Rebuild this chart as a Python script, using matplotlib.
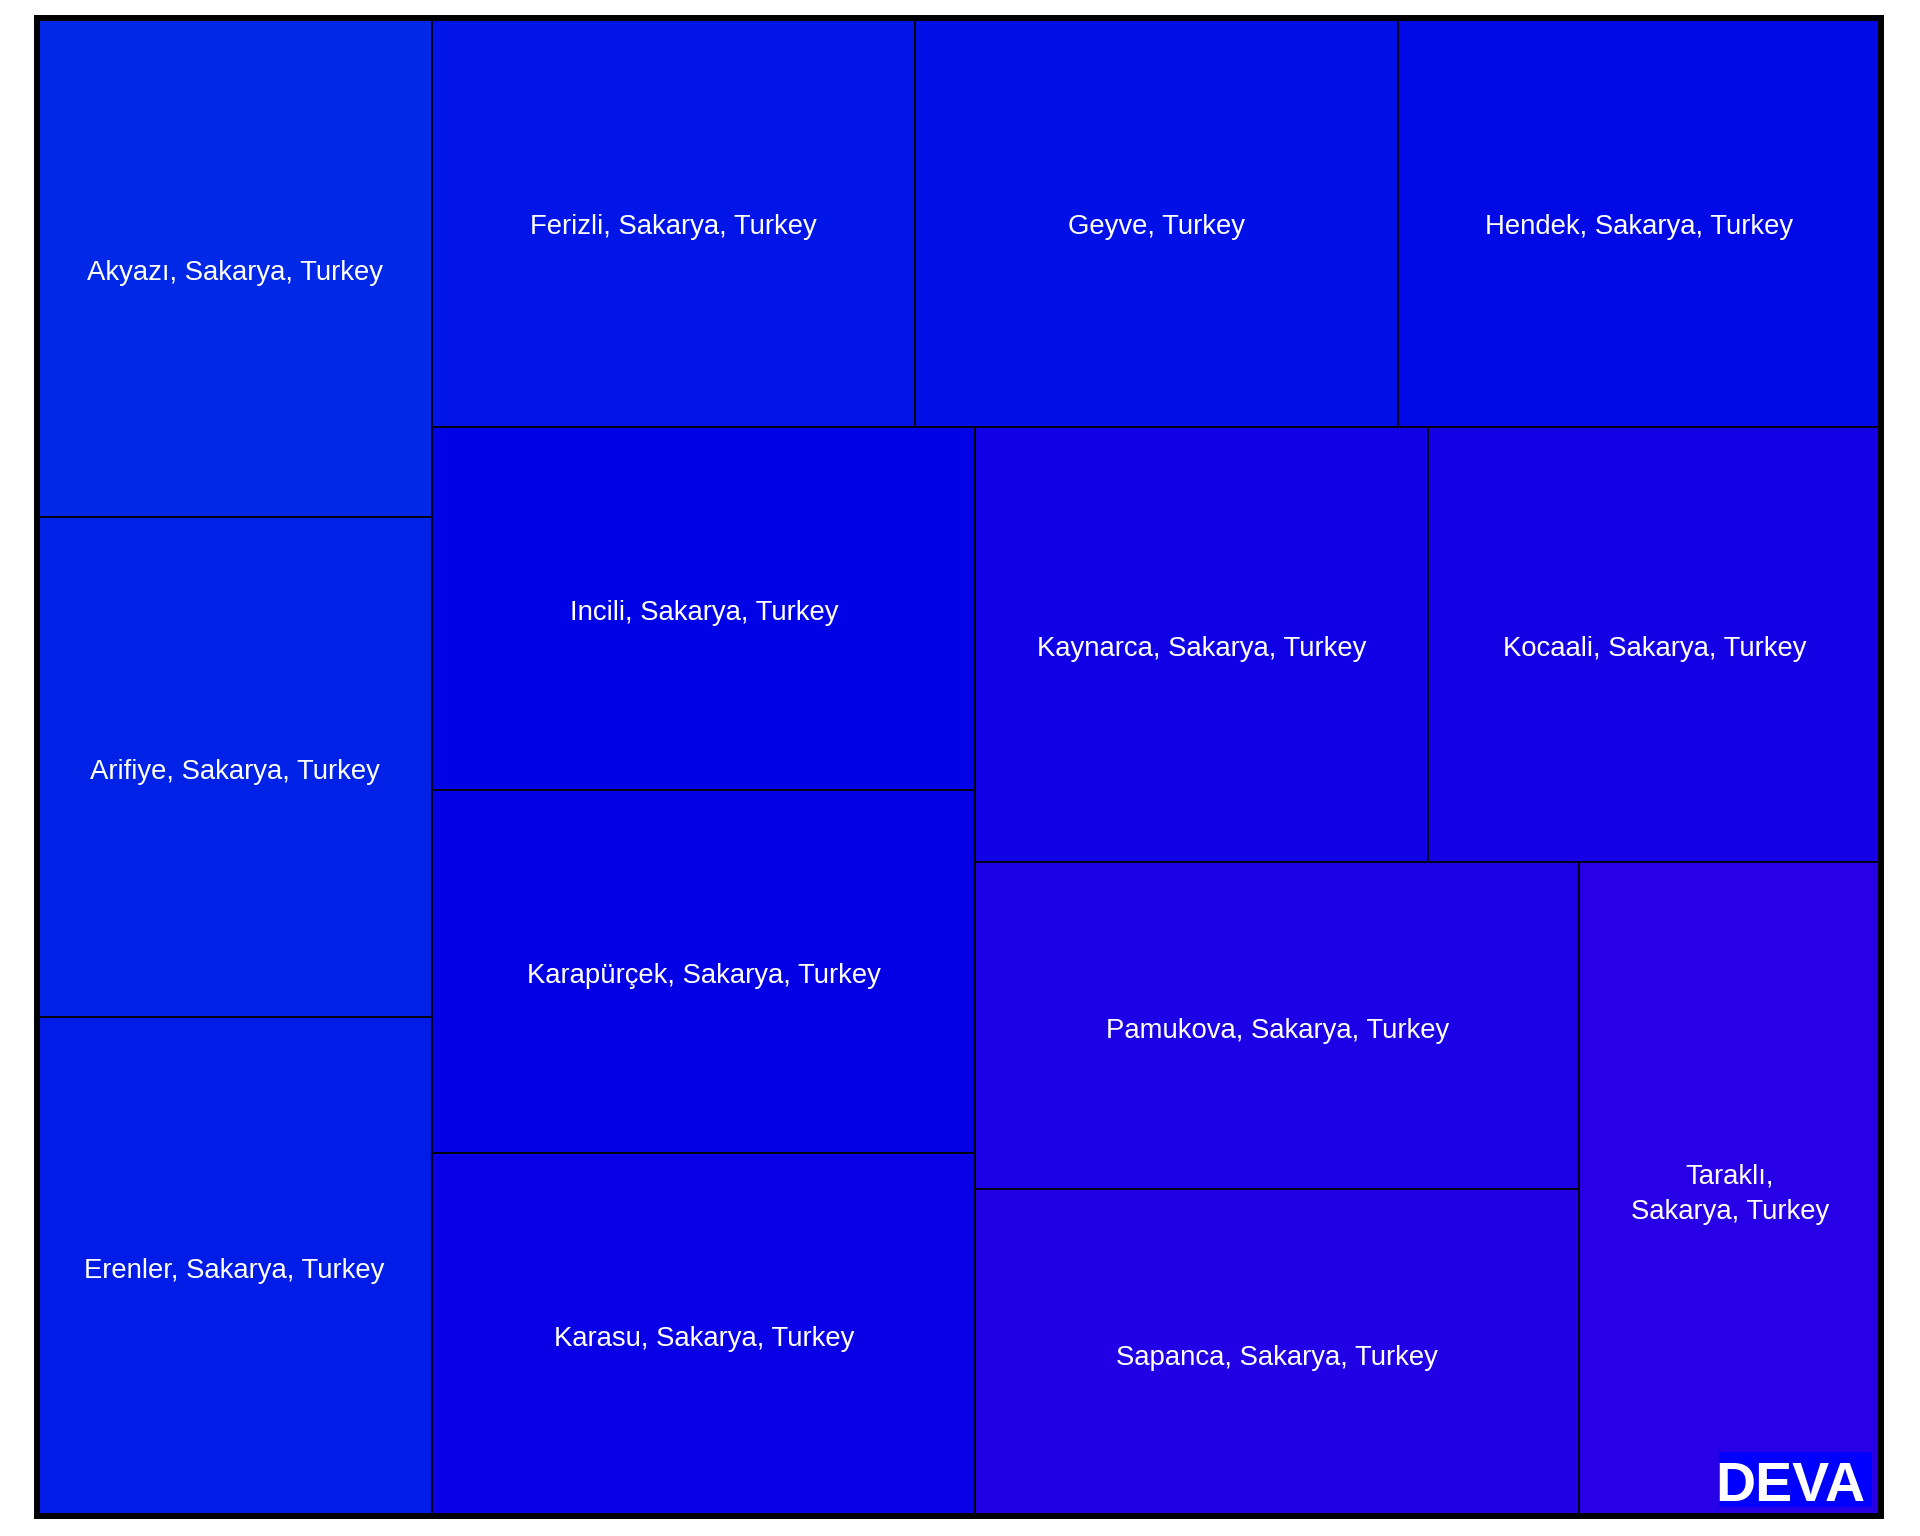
import matplotlib
matplotlib.use("Agg")
import matplotlib.pyplot as plt
import matplotlib.transforms as mtransforms
from matplotlib.colors import LinearSegmentedColormap
from matplotlib.patches import Rectangle

# ---- data ----
labels = [
    "Akyazı, Sakarya, Turkey",
    "Arifiye, Sakarya, Turkey",
    "Erenler, Sakarya, Turkey",
    "Ferizli, Sakarya, Turkey",
    "Geyve, Turkey",
    "Hendek, Sakarya, Turkey",
    "Incili, Sakarya, Turkey",
    "Karapürçek, Sakarya, Turkey",
    "Karasu, Sakarya, Turkey",
    "Kaynarca, Sakarya, Turkey",
    "Kocaali, Sakarya, Turkey",
    "Pamukova, Sakarya, Turkey",
    "Sapanca, Sakarya, Turkey",
    "Taraklı,\nSakarya, Turkey",
]
values = [1, 1, 1, 1, 1, 1, 1, 1, 1, 1, 1, 1, 1, 1]


# ---- squarified treemap layout ----
def _layout(sizes, x, y, dx, dy):
    area = sum(sizes)
    rects = []
    if dx >= dy:  # column on the left
        w = area / dy
        for s in sizes:
            h = s / w
            rects.append((x, y, w, h))
            y += h
    else:  # row on the top
        h = area / dx
        for s in sizes:
            w = s / h
            rects.append((x, y, w, h))
            x += w
    return rects


def _leftover(sizes, x, y, dx, dy):
    area = sum(sizes)
    if dx >= dy:
        w = area / dy
        return x + w, y, dx - w, dy
    h = area / dx
    return x, y + h, dx, dy - h


def _worst(sizes, x, y, dx, dy):
    return max(max(r[2] / r[3], r[3] / r[2]) for r in _layout(sizes, x, y, dx, dy))


def squarify(sizes, x, y, dx, dy):
    if not sizes:
        return []
    if len(sizes) == 1:
        return _layout(sizes, x, y, dx, dy)
    i = 1
    while i < len(sizes) and _worst(sizes[:i], x, y, dx, dy) >= _worst(sizes[:i + 1], x, y, dx, dy):
        i += 1
    cur, rest = sizes[:i], sizes[i:]
    return _layout(cur, x, y, dx, dy) + squarify(rest, *_leftover(cur, x, y, dx, dy))


# ---- figure ----
plt.rcParams["font.family"] = ["Liberation Sans", "DejaVu Sans"]
fig = plt.figure(figsize=(19.2, 15.36), dpi=100)
fig.patch.set_facecolor("white")

left, right, top, bottom = 37 / 1920, 1881 / 1920, 18 / 1536, 1516 / 1536
ax = fig.add_axes([left, 1 - bottom, right - left, bottom - top])
W = (right - left) * 1920
H = (bottom - top) * 1536
ax.set_xlim(0, W)
ax.set_ylim(H, 0)

total = sum(values)
sizes = [v * W * H / total for v in values]
rects = squarify(sizes, 0, 0, W, H)

cmap = LinearSegmentedColormap.from_list("bp", ["#0028E6", "#0000E6", "#2800E6"])
n = len(labels)
shift = mtransforms.ScaledTranslation(0, -5 / 100, fig.dpi_scale_trans)
for i, ((x, y, w, h), lab) in enumerate(zip(rects, labels)):
    ax.add_patch(Rectangle((x, y), w, h, facecolor=cmap(i / (n - 1)),
                           edgecolor="black", linewidth=1.2))
    ax.text(x + w / 2, y + h / 2, lab, ha="center", va="center", color="white",
            fontsize=19.8, linespacing=1.45, transform=ax.transData + shift)

ax.set_xticks([])
ax.set_yticks([])
for s in ax.spines.values():
    s.set_linewidth(4.3)
    s.set_color("black")

# watermark
fig.patches.append(Rectangle((1719 / 1920, 1 - 1507 / 1536), 153 / 1920, 55 / 1536,
                             transform=fig.transFigure, facecolor="#0000FF",
                             edgecolor="none", zorder=5))
fig.text(1715 / 1920, 1 - 1501 / 1536, "DEVA", ha="left", va="baseline",
         color="white", fontsize=40, fontweight="bold", zorder=6)

fig.savefig("out.png", dpi=100, facecolor="white")
